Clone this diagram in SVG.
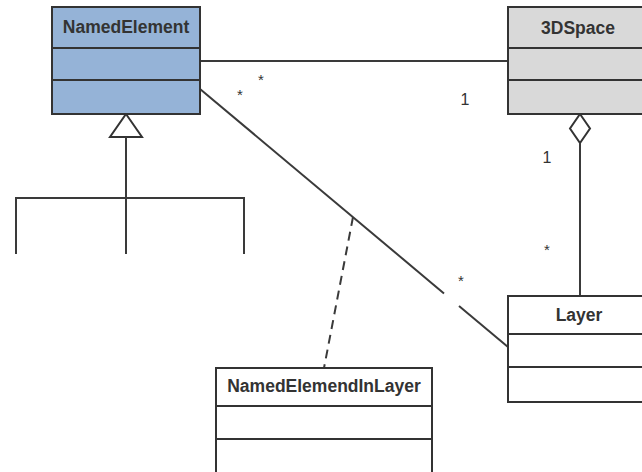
<svg xmlns="http://www.w3.org/2000/svg" width="642" height="472" viewBox="0 0 642 472">
<style>
.box{stroke:#333;stroke-width:2}
.blue{fill:#95B3D7}
.gray{fill:#D9D9D9}
.white{fill:#fff}
.ln{stroke:#3a3a3a;stroke-width:2;fill:none}
.title{font-family:"Liberation Sans",Arial,sans-serif;font-weight:bold;font-size:17.5px;fill:#333;text-anchor:middle}
.mult{font-family:"Liberation Sans",Arial,sans-serif;font-size:16px;fill:#333;text-anchor:middle}
.star{font-family:"Liberation Sans",Arial,sans-serif;font-size:15px;fill:#333;text-anchor:middle}
</style>
<rect width="642" height="472" fill="#fff"/>
<g id="connectors">
  <line class="ln" x1="200" y1="61" x2="508" y2="61"/>
  <line class="ln" x1="200" y1="89" x2="444" y2="293.4"/>
  <line class="ln" x1="459" y1="306" x2="508" y2="347"/>
  <line class="ln" x1="353" y1="217" x2="324" y2="368" stroke-dasharray="9,6"/>
  <polygon points="580,114 590,128.5 580,143 570,128.5" fill="#fff" stroke="#333" stroke-width="2"/>
  <line class="ln" x1="580" y1="143" x2="580" y2="296"/>
  <polygon points="126,114 142,137 110,137" fill="#fff" stroke="#333" stroke-width="2"/>
  <line class="ln" x1="126" y1="137" x2="126" y2="254"/>
  <polyline class="ln" points="16,254 16,198 244,198 244,254"/>
  <text class="star" x="261" y="85">*</text>
  <text class="star" x="240" y="100">*</text>
  <text class="mult" x="465" y="105">1</text>
  <text class="mult" x="547" y="163">1</text>
  <text class="star" x="547" y="255">*</text>
  <text class="star" x="461" y="286">*</text>
</g>
<g id="NamedElement">
  <rect class="box blue" x="52" y="7" width="148" height="107"/>
  <line class="box" x1="52" y1="48" x2="200" y2="48"/>
  <line class="box" x1="52" y1="80" x2="200" y2="80"/>
  <text class="title" x="126" y="33">NamedElement</text>
</g>
<g id="Space3D">
  <rect class="box gray" x="508" y="7" width="140" height="107"/>
  <line class="box" x1="508" y1="48" x2="642" y2="48"/>
  <line class="box" x1="508" y1="80" x2="642" y2="80"/>
  <text class="title" x="578" y="34">3DSpace</text>
</g>
<g id="Layer">
  <rect class="box white" x="508" y="296" width="140" height="106"/>
  <line class="box" x1="508" y1="334" x2="642" y2="334"/>
  <line class="box" x1="508" y1="367" x2="642" y2="367"/>
  <text class="title" x="579" y="321">Layer</text>
</g>
<g id="NamedElemendInLayer">
  <rect class="box white" x="216" y="368" width="216" height="110"/>
  <line class="box" x1="216" y1="406" x2="432" y2="406"/>
  <line class="box" x1="216" y1="439" x2="432" y2="439"/>
  <text class="title" x="324" y="392">NamedElemendInLayer</text>
</g>
</svg>
